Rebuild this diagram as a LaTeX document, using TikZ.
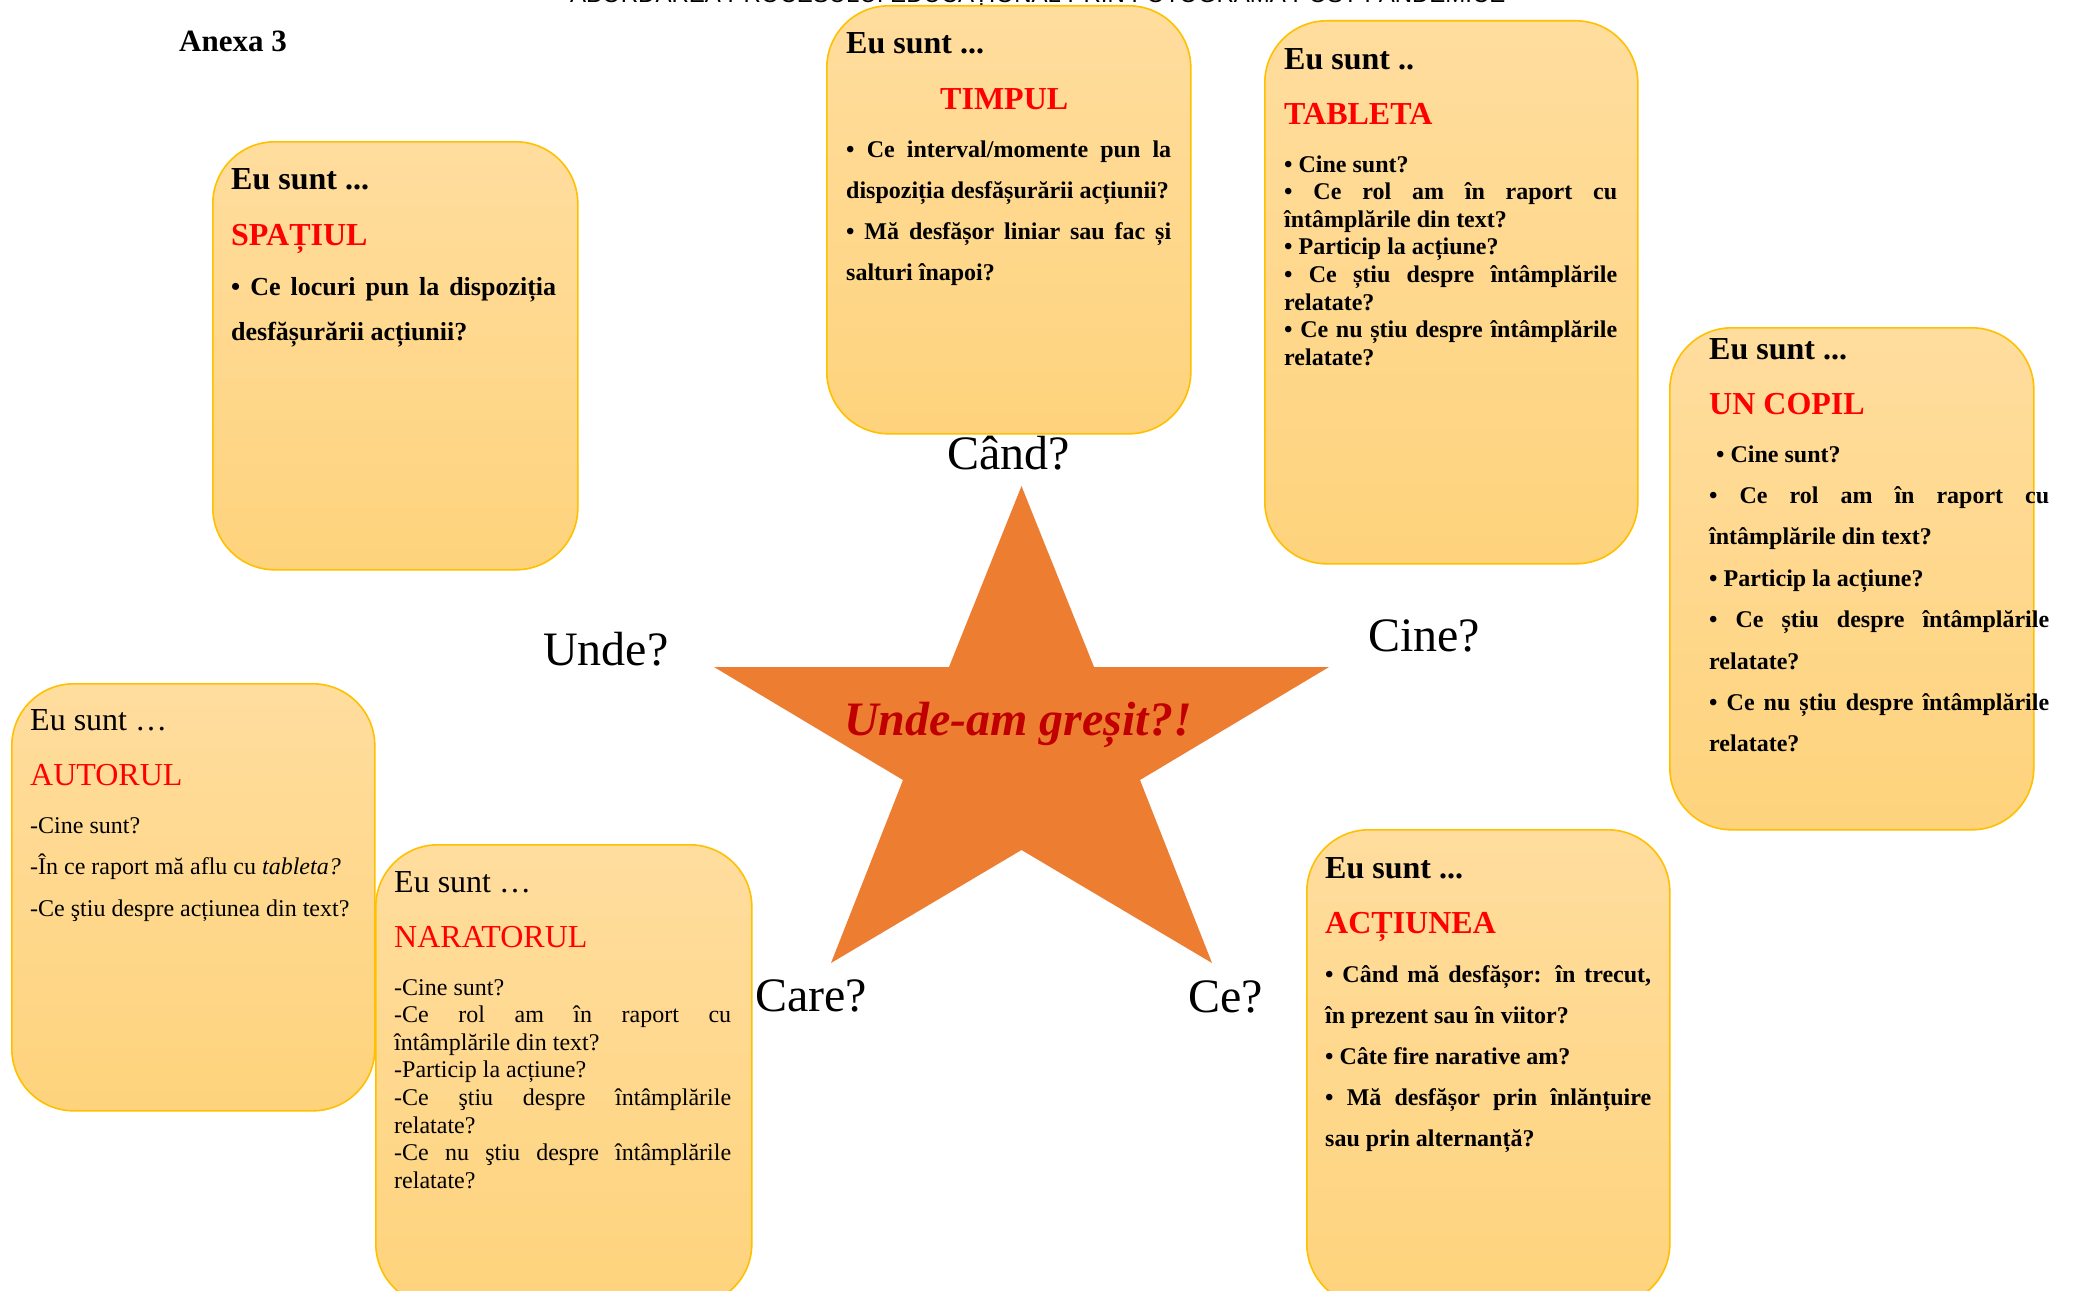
\documentclass[tikz,border=0pt]{standalone}
\usepackage{fontspec}
\setmainfont{Liberation Serif}
\newfontfamily\hdrfont{Liberation Sans}
\definecolor{cardtop}{HTML}{FFDD9E}
\definecolor{cardbot}{HTML}{FED37C}
\definecolor{cardline}{HTML}{FFC000}
\definecolor{starfill}{HTML}{ED7D31}
\definecolor{darkred}{HTML}{C00000}
\definecolor{titlered}{HTML}{FF0000}
\newcommand\jl[1]{\makebox[\linewidth][s]{#1}}
\tikzset{
 card/.style={draw=cardline, line width=1.6pt, top color=cardtop, bottom color=cardbot, rounded corners=62pt, anchor=north west, inner sep=0pt},
 lbl/.style={anchor=base west, inner sep=0pt},
 eusb/.style={lbl, font=\bfseries\fontsize{32}{38}\selectfont},
 eusr/.style={lbl, font=\fontsize{32}{38}\selectfont},
 ttlb/.style={lbl, text=titlered, font=\bfseries\fontsize{32}{38}\selectfont},
 ttlr/.style={lbl, text=titlered, font=\fontsize{32}{38}\selectfont},
 qlbl/.style={lbl, font=\fontsize{48}{56}\selectfont},
}
\begin{document}
\begin{tikzpicture}[x=1pt,y=-1pt]
\useasboundingbox (0,0) rectangle (2076,1290);
\clip (0,0) rectangle (2076,1290);
\fill[white] (0,0) rectangle (2076,1290);

% header (cut off at the top of the page)
\node[lbl, font=\hdrfont\fontsize{24}{28}\selectfont] (hdr) at (570,3) {ABORDAREA PROCESULUI EDUCAȚIONAL PRIN FOTOGRAMA POST-PANDEMICE};
\node[lbl, font=\bfseries\fontsize{31}{36}\selectfont] (anexa) at (179,52) {Anexa 3};

% star
\fill[starfill] (1021.5,486) -- (1094,667) -- (1329,667) -- (1140,780) -- (1212,963) -- (1021.5,850) -- (831,963) -- (903,780) -- (714,667) -- (949,667) -- cycle;
\node[anchor=base, inner sep=0pt, text=darkred, font=\bfseries\itshape\fontsize{48}{56}\selectfont] (centru) at (1018,735) {Unde-am greșit?!};

% question labels
\node[qlbl] (cand) at (947,469) {Când?};
\node[qlbl] (unde) at (543,665) {Unde?};
\node[qlbl] (cine) at (1368,651) {Cine?};
\node[qlbl] (care) at (755,1011) {Care?};
\node[qlbl] (ce) at (1188,1012) {Ce?};

% SPATIUL
\node[card, minimum width=365pt, minimum height=428pt] (spatiul) at (212,141) {};
\node[eusb] (spE) at (231,189) {Eu sunt ...};
\node[ttlb] (spT) at (231,245) {SPAȚIUL};
\node[lbl] (spB) at (231,295) {\parbox[t]{325pt}{\bfseries\fontsize{26}{45}\selectfont
 \jl{• Ce locuri pun la dispoziția}\\
 desfășurării acțiunii?}};

% TIMPUL
\node[card, minimum width=364pt, minimum height=428pt] (timpul) at (826,5) {};
\node[eusb] (tiE) at (846,53) {Eu sunt ...};
\node[ttlb] (tiT) at (940,109) {TIMPUL};
\node[lbl] (tiB) at (846,157) {\parbox[t]{325pt}{\bfseries\fontsize{24}{41.2}\selectfont
 \jl{• Ce interval/momente pun la}\\
 dispoziția desfășurării acțiunii?\\
 \jl{• Mă desfășor liniar sau fac și}\\
 salturi înapoi?}};

% TABLETA
\node[card, minimum width=373pt, minimum height=543pt] (tableta) at (1264,20) {};
\node[eusb] (taE) at (1284,70) {Eu sunt ..};
\node[ttlb] (taT) at (1284,124) {TABLETA};
\node[lbl] (taB) at (1284,172) {\parbox[t]{333pt}{\bfseries\fontsize{24}{27.6}\selectfont
 • Cine sunt?\\
 \jl{• Ce rol am în raport cu}\\
 întâmplările din text?\\
 • Particip la acțiune?\\
 \jl{• Ce știu despre întâmplările}\\
 relatate?\\
 \jl{• Ce nu știu despre întâmplările}\\
 relatate?}};

% UN COPIL
\node[card, minimum width=364pt, minimum height=502pt] (copil) at (1669,327) {};
\node[eusb] (coE) at (1709,359) {Eu sunt ...};
\node[ttlb] (coT) at (1709,414) {UN COPIL};
\node[lbl] (coB) at (1709,462) {\parbox[t]{340pt}{\bfseries\fontsize{24}{41.4}\selectfont
 \hspace*{7pt}• Cine sunt?\\
 \jl{• Ce rol am în raport cu}\\
 întâmplările din text?\\
 • Particip la acțiune?\\
 \jl{• Ce știu despre întâmplările}\\
 relatate?\\
 \jl{• Ce nu știu despre întâmplările}\\
 relatate?}};

% AUTORUL
\node[card, minimum width=363pt, minimum height=427pt] (autorul) at (11,683) {};
\node[eusr] (auE) at (30,730) {Eu sunt …};
\node[ttlr] (auT) at (30,785) {AUTORUL};
\node[lbl] (auB) at (30,833) {\parbox[t]{335pt}{\fontsize{24}{41.5}\selectfont
 -Cine sunt?\\
 -În ce raport mă aflu cu \textit{tableta?}\\
 -Ce ştiu despre acțiunea din text?}};

% NARATORUL
\node[card, minimum width=376pt, minimum height=461pt] (naratorul) at (375,844) {};
\node[eusr] (naE) at (394,892) {Eu sunt …};
\node[ttlr] (naT) at (394,947) {NARATORUL};
\node[lbl] (naB) at (394,995) {\parbox[t]{337pt}{\fontsize{24}{27.6}\selectfont
 -Cine sunt?\\
 \jl{-Ce rol am în raport cu}\\
 întâmplările din text?\\
 -Particip la acțiune?\\
 \jl{-Ce ştiu despre întâmplările}\\
 relatate?\\
 \jl{-Ce nu ştiu despre întâmplările}\\
 relatate?}};

% ACTIUNEA
\node[card, minimum width=363pt, minimum height=476pt] (actiunea) at (1306,829) {};
\node[eusb] (acE) at (1325,878) {Eu sunt ...};
\node[ttlb] (acT) at (1325,933) {ACȚIUNEA};
\node[lbl] (acB) at (1325,982) {\parbox[t]{326pt}{\bfseries\fontsize{24}{41.1}\selectfont
 \jl{• Când mă desfășor: în trecut,}\\
 în prezent sau în viitor?\\
 • Câte fire narative am?\\
 \jl{• Mă desfășor prin înlănțuire}\\
 sau prin alternanță?}};
\end{tikzpicture}
\end{document}
